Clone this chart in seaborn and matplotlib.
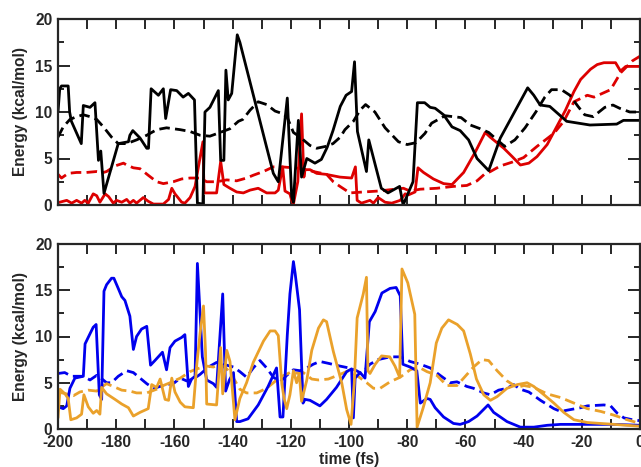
import matplotlib
matplotlib.use("Agg")
import matplotlib.pyplot as plt
from matplotlib.ticker import MultipleLocator
import seaborn as sns

# ---- upper panel: black pair and red pair ----
black_solid_t = [-200, -199.4, -198.8, -196.5, -196, -195.4, -192, -191.3, -189, -187.3, -186.1, -185.3,
                 -184.2, -181.5, -179.3, -175.8, -175.3, -174.3, -171.8, -169.5, -168.9, -168, -165.5,
                 -163.8, -163, -161.3, -159.2, -157, -155.2, -153.1, -152.1, -150.2, -149.5, -147.8,
                 -144.9, -144.1, -143, -142.3, -141.5, -140.3, -138.4, -137.5, -128.3, -126, -124.3,
                 -121.2, -119.7, -119.1, -117.4, -116.3, -114.5, -111.7, -109.5, -107.5, -105.5, -103,
                 -101, -99.1, -98.1, -97.1, -94.0, -93.2, -88.9, -86.6, -82.6, -81.4, -78.0, -76.5,
                 -74, -72.1, -70.4, -67.5, -64.6, -61.8, -58.9, -56, -52, -48, -44, -38.6, -36.5,
                 -34.3, -31, -25.2, -17.2, -8, -5.7, 0]
black_solid_e = [10.0, 12.5, 12.8, 12.8, 10.0, 9.0, 6.6, 10.7, 10.5, 11.0, 4.8, 5.8,
                 1.25, 4.2, 6.6, 6.8, 7.5, 8.0, 7.2, 6.1, 6.1, 12.5, 11.8,
                 12.5, 9.3, 12.4, 12.3, 11.6, 12.0, 11.3, 0.2, 0.1, 10.0, 10.5,
                 12.3, 4.8, 4.8, 14.5, 11.3, 12.0, 18.3, 17.5, 6.2, 3.4, 2.5,
                 11.5, 0.9, 0.3, 9.1, 3.0, 5.0, 4.5, 4.9, 6.2, 8.0, 10.6,
                 11.8, 12.2, 15.4, 7.9, 3.6, 7.0, 1.8, 1.3, 2.0, 0.0, 2.5, 11.0,
                 11.0, 10.5, 10.4, 9.7, 8.4, 8.0, 7.0, 5.0, 3.7, 7.2, 9.5, 12.6, 11.8,
                 10.75, 10.6, 9.0, 8.6, 8.7, 9.1, 9.1]

black_dash_t = [-200, -198.2, -195.9, -193.6, -191.3, -189, -186.7, -184.4, -181.6, -179.3, -176.4,
                -173, -169.5, -166.1, -162.7, -158, -154.6, -151.2, -147.8, -144.3, -140.9, -138,
                -136.5, -134, -131.2, -128.3, -125.4, -122.6, -121.2, -119.1, -116.8, -113.4, -111.1,
                -108, -105.5, -103, -101.4, -98.5, -96.2, -94.3, -91.1, -87.6, -83, -80, -77, -73.9,
                -71.6, -67, -61.5, -58.3, -54.9, -52, -49.1, -46.5, -43, -39.5, -35.8, -32.7, -30.4,
                -27, -24.1, -21.3, -19, -16.1, -12.1, -9.3, -7, -3.5, 0]
black_dash_e = [7.3, 8.4, 9.2, 9.5, 9.7, 9.5, 9.2, 8.4, 7.3, 6.6, 6.6,
                7.0, 7.5, 8.1, 8.3, 8.1, 7.9, 7.5, 7.4, 7.8, 8.2, 9.0,
                9.2, 10.2, 11.1, 10.8, 10.1, 9.8, 9.4, 7.8, 7.3, 6.4, 6.1,
                6.3, 6.6, 7.3, 8.1, 9.0, 10.2, 10.8, 10.0, 8.3, 6.8, 6.5, 6.7, 7.7,
                8.8, 9.6, 9.4, 8.6, 8.2, 7.8, 7.0, 6.3, 7.0, 8.3, 10.0, 11.6, 12.4,
                12.4, 11.8, 10.6, 9.7, 9.5, 10.5, 10.75, 10.4, 10.0, 10.0]

red_solid_t = [-200, -197, -195.3, -193.6, -191.9, -190.8, -189.6, -187.9, -186.7, -185.6, -183.8,
               -182.6, -181, -179.9, -178.1, -176.4, -175.3, -174.1, -173, -170.7, -169, -167.2,
               -163.8, -162, -160.9, -159.8, -157.5, -156.4, -154.6, -152.9, -151.8, -150.2, -149.8,
               -145.5, -144.1, -143, -140.9, -138.6, -136.3, -134, -131.2, -128.3, -125.4, -124.3,
               -122.8, -122, -120.3, -119.7, -119.1, -117.6, -116.3, -115.5, -115.1, -113.4, -111.1,
               -108, -103.1, -99.1, -97.8, -97.2, -95.7, -92.8, -91.6, -90, -87.6, -85.3, -82.4,
               -80.7, -79.5, -77.3, -76.3, -74.4, -71, -67.5, -64.6, -60.6, -56.6, -53.2, -51.5,
               -46.8, -43.9, -41.1, -38.2, -35.4, -31.9, -29, -25.6, -22.7, -20.4, -17, -14.7,
               -12.4, -8.4, -6.7, -4.9, 0]
red_solid_e = [0.25, 0.5, 0.2, 0.5, 0.2, 0.5, 0.2, 1.2, 1.0, 0.3, 1.2,
               0.9, 0.2, 0.5, 0.3, 0.6, 0.2, 0.5, 0.2, 0.8, 0.4, 0.1,
               0.1, 0.6, 1.8, 1.2, 0.3, 0.2, 0.8, 2.0, 4.0, 6.8, 1.3,
               1.3, 4.7, 2.2, 1.8, 1.4, 1.3, 1.6, 1.8, 1.3, 1.3, 1.6,
               4.1, 1.5, 1.2, 0.5, 0.1, 2.5, 9.8, 3.0, 3.8, 3.8, 3.4,
               3.3, 3.0, 2.9, 4.1, 0.5, 0.2, 0.5, 0.2, 0.8, 0.3, 0.2, 0.5,
               1.2, 1.1, 1.4, 4.0, 3.5, 2.8, 2.3, 2.2, 3.5, 5.7, 7.8, 7.3,
               6.1, 5.2, 4.3, 4.5, 5.2, 6.5, 8.2, 10.2, 12.2, 13.5, 14.6, 15.1,
               15.3, 15.3, 14.4, 14.9, 14.9]

red_dash_t = [-200, -198.8, -196.5, -193.6, -190.2, -186.7, -184.4, -183.3, -180.4, -177.5, -176.4,
              -174.1, -171.8, -169, -166.1, -163.8, -160.4, -157.5, -154.6, -151.2, -148.9, -145.5,
              -142, -138.6, -135.2, -132.9, -129.4, -126, -123.1, -119.1, -115.7, -112.3, -107.7,
              -105.4, -103.1, -99.7, -95.1, -90, -87.1, -81.3, -79, -75.5, -69.8, -64.1, -59.5,
              -56, -53.5, -51.4, -48, -44, -40, -35.4, -29.6, -26.2, -22.7, -18.1, -15.8, -10.1,
              -6.7, -2.6, 0]
red_dash_e = [3.3, 2.9, 3.4, 3.5, 3.5, 3.6, 3.5, 3.6, 4.2, 4.5, 4.3,
              4.0, 3.9, 3.2, 2.5, 2.3, 2.5, 2.8, 2.9, 2.9, 2.5, 2.5,
              2.7, 2.6, 2.9, 3.2, 3.6, 4.1, 4.1, 4.0, 3.9, 3.6, 3.3,
              2.5, 2.0, 1.3, 1.4, 1.5, 1.6, 1.8, 1.5, 1.7, 1.8, 2.0, 2.1,
              2.6, 3.3, 3.6, 4.2, 4.6, 5.1, 6.3, 7.7, 9.0, 11.1, 11.8, 11.6, 12.4,
              14.2, 15.5, 16.0]

# ---- lower panel: blue pair and orange pair ----
blue_solid_t = [-200, -198.2, -197, -195.9, -194.2, -191.3, -190.7, -189, -187.9, -186.9, -185.8,
                -185, -184.2, -183.3, -181.6, -180.8, -179.3, -178.1, -177, -175.3, -174.1, -173,
                -171.3, -169.5, -168.2, -166.7, -164.1, -162.7, -161.5, -159.8, -157.5, -156.4,
                -155.2, -154.1, -152.9, -152.1, -151.2, -150.4, -148.9, -146.6, -145.5, -143.4,
                -142.4, -141.1, -139.7, -138.6, -137.5, -134.7, -131.2, -127.8, -124.9, -123.7,
                -122.7, -121.2, -120.3, -119.1, -118.5, -117.0, -115.8, -115.1, -113.4, -110,
                -107.7, -104.3, -100.8, -99.1, -98.5, -97.9, -96.2, -94.5, -93, -91, -88.7, -85.9,
                -83.8, -82.4, -81.5, -79, -76.7, -75.5, -73.2, -72.1, -70.4, -67.5, -64.1, -61.8,
                -58.9, -56, -52.2, -50.3, -45.7, -41.1, -36.5, -31.9, -27.3, -18, -9, 0]
blue_solid_e = [2.4, 2.2, 2.5, 4.4, 5.5, 5.7, 9.2, 10.3, 11.0, 11.3, 3.7,
                3.2, 14.9, 15.6, 16.3, 16.3, 15.2, 14.3, 13.9, 12.2, 8.6, 10.0,
                10.8, 11.1, 6.9, 7.4, 8.3, 6.4, 8.8, 9.5, 9.9, 10.2,
                4.6, 5.4, 5.7, 17.9, 12.6, 7.8, 5.3, 4.9, 4.5, 14.6,
                4.1, 5.3, 6.1, 0.8, 0.8, 1.1, 2.6, 4.6, 6.6, 1.3,
                1.3, 10.2, 14.6, 18.1, 16.8, 12.9, 2.8, 3.2, 3.1, 2.5,
                3.2, 4.5, 6.2, 6.5, 1.2, 5.5, 6.1, 5.5, 11.6, 12.7, 14.7, 15.2,
                15.3, 14.4, 7.0, 6.7, 6.3, 2.8, 3.3, 3.2, 2.3, 1.3, 0.6, 0.5,
                0.8, 1.4, 2.6, 1.8, 0.8, 0.2, 0.2, 0.4, 0.5, 0.5, 0.5, 0.4]

blue_dash_t = [-200, -197.7, -195.3, -191.3, -189, -186.7, -185.6, -183.3, -181.6, -179.3, -176.4,
               -174.1, -171.8, -169.5, -167.2, -164.9, -162.7, -160.4, -158, -155.8, -153.5, -151.2,
               -148.3, -145.5, -143.1, -139.7, -137.5, -135.2, -132.9, -130.6, -128.3, -126, -123.7,
               -121.4, -119.1, -116.8, -114.5, -112.3, -110, -107.1, -103.1, -100, -97.4, -95.7,
               -92.8, -90, -85.9, -82.4, -79, -75.5, -72.1, -68.7, -65.2, -62.9, -59.5, -57.2,
               -53.7, -51.4, -48.6, -45.7, -43.4, -41.1, -38.2, -34.2, -29.6, -27.3, -23.9, -20.4,
               -18.1, -12.4, -10.1, -7.8, -5.5, -2.6, 0]
blue_dash_e = [6.0, 6.1, 5.7, 5.7, 5.3, 5.8, 5.6, 5.0, 5.0, 5.7, 6.3,
               6.1, 5.5, 4.9, 4.4, 4.6, 4.8, 4.9, 5.5, 5.2, 5.4, 5.9,
               6.7, 7.2, 7.0, 6.7, 6.2, 5.6, 6.6, 7.4, 6.6, 5.6, 5.1,
               5.8, 6.4, 6.3, 6.6, 7.0, 7.3, 7.1, 6.8, 6.6, 6.3, 6.0,
               7.0, 7.5, 7.8, 7.8, 7.3, 7.0, 6.6, 5.8, 5.0, 5.1, 4.6, 4.4,
               3.9, 3.7, 4.2, 4.4, 4.8, 4.3, 4.0, 3.1, 2.2, 1.9, 2.1, 2.3,
               2.5, 2.6, 2.5, 1.7, 1.2, 1.0, 0.9]

orange_solid_t = [-200, -199.3, -197.6, -196.5, -195.6, -193.6, -191.9, -191.1, -189.6, -187.9, -186.7,
                  -185.6, -185, -183.3, -180.4, -178.1, -175.8, -174.1, -171.8, -169, -167.8, -166.1,
                  -164.9, -163.2, -162, -160.9, -159.8, -158, -156.4, -153.5, -152.3, -151.2, -150,
                  -149.3, -148.9, -145.5, -144.1, -143.4, -142, -140.9, -139.2, -137.5, -135.2, -132.9,
                  -129.4, -127.1, -125.4, -124.3, -123.1, -122.3, -121.4, -120.3, -119.1, -118, -117.1,
                  -116.3, -114.5, -112.8, -110.5, -108.8, -107.7, -105.4, -102.5, -100.8, -99.3, -98.2,
                  -97.2, -95.1, -94, -93.5, -92.8, -91, -88.8, -86, -84.2, -82.6, -81.8, -79.8, -77.4,
                  -76.6, -74.6, -72.1, -70, -68.1, -65.8, -62.8, -60.6, -58.3, -56.2, -53.7, -51.4,
                  -49.1, -45.7, -42.2, -38.8, -36.5, -33, -29.6, -26.2, -22.7, -18.1, -9, 0]
orange_solid_e = [1.2, 4.3, 3.8, 3.3, 1.0, 1.2, 1.6, 3.7, 2.4, 1.7, 2.0,
                  1.6, 4.5, 3.8, 3.2, 2.7, 2.3, 1.4, 1.8, 2.2, 4.8, 4.5,
                  5.4, 3.2, 3.1, 5.5, 4.0, 2.9, 2.4, 2.3, 7.0, 10.3, 13.3,
                  8.3, 2.7, 2.6, 8.8, 3.8, 8.5, 7.3, 1.0, 3.3, 5.0, 7.2,
                  9.5, 10.6, 10.6, 10.1, 4.9, 3.3, 2.2, 3.7, 6.3, 5.0, 6.0,
                  3.0, 5.3, 8.5, 10.9, 11.8, 11.6, 8.4, 5.0, 2.1, 0.5, 4.9,
                  12.0, 14.6, 16.4, 6.3, 6.0, 7.0, 7.9, 7.8, 6.8, 5.6, 17.3, 15.8, 12.4,
                  0.2, 2.2, 5.0, 9.3, 10.9, 11.8, 11.3, 10.6, 8.1, 5.4, 3.7, 3.1,
                  3.5, 4.4, 4.8, 5.0, 4.6, 3.7, 2.8, 1.8, 1.0, 0.7, 0.5, 0.3]

orange_dash_t = [-200, -197.1, -194.7, -192.5, -189.6, -186.7, -185.6, -183.3, -181, -178.1, -175.3,
                 -173, -169.5, -166.1, -163.8, -161.5, -158, -154.6, -152.3, -148.9, -146.6, -144.3,
                 -142, -139.7, -137.5, -135.2, -131.7, -128.3, -126, -123.7, -120.3, -116.8, -115.7,
                 -112.8, -110.5, -107.1, -103.1, -100.2, -97.4, -93.9, -91.6, -89.3, -85.9, -82.4,
                 -79, -76.1, -73.2, -69.8, -66.4, -62.9, -60.6, -57.2, -54.3, -52, -49.1, -45.7,
                 -42.2, -39.9, -36.5, -31.9, -27.3, -22.7, -18.1, -13.5, -9, -4.4, 0]
orange_dash_e = [4.0, 3.8, 3.6, 4.0, 4.2, 4.1, 4.4, 4.9, 4.6, 4.2, 4.1,
                 3.9, 3.9, 4.3, 4.7, 5.0, 5.5, 6.2, 6.5, 6.8, 6.7, 7.0,
                 6.5, 5.5, 4.3, 3.9, 3.9, 4.4, 5.0, 5.6, 6.1, 6.0, 6.1,
                 5.4, 5.3, 5.4, 5.9, 6.3, 5.8, 5.0, 4.4, 4.4, 5.1, 5.6,
                 6.4, 6.7, 6.2, 5.8, 4.7, 4.7, 5.5, 6.7, 7.5, 7.4, 6.3, 5.2,
                 4.5, 4.7, 4.5, 3.8, 3.4, 2.8, 2.2, 1.9, 1.5, 1.0, 0.6]

x_ticks = [-200, -180, -160, -140, -120, -100, -80, -60, -40, -20, 0]
x_tick_labels = ["-200", "-180", "-160", "-140", "-120", "-100", "-80", "-60", "-40", "-20", "0"]
y_ticks = [0, 5, 10, 15, 20]

BLACK = "#000000"
RED = "#dd0000"
BLUE = "#0000ee"
ORANGE = "#eaa12b"
DASH = (0, (3.8, 1.9))
FS = 11.2

sns.set_style("ticks")
plt.rcParams["font.family"] = ["Liberation Sans", "DejaVu Sans"]
plt.rcParams["font.weight"] = "bold"
plt.rcParams["axes.labelweight"] = "bold"

fig = plt.figure(figsize=(6.41, 4.67), dpi=100)
ax_top = fig.add_axes([58 / 641, 1 - 205 / 467, 582 / 641, 186 / 467])
ax_bot = fig.add_axes([58 / 641, 1 - 429 / 467, 582 / 641, 185 / 467])

def draw(ax, t, e, color, ls):
    sns.lineplot(x=t, y=e, ax=ax, color=color, linestyle=ls, linewidth=2.0,
                 estimator=None, sort=False, legend=False)

draw(ax_top, red_dash_t, red_dash_e, RED, DASH)
draw(ax_top, red_solid_t, red_solid_e, RED, "-")
draw(ax_top, black_dash_t, black_dash_e, BLACK, DASH)
draw(ax_top, black_solid_t, black_solid_e, BLACK, "-")

draw(ax_bot, blue_dash_t, blue_dash_e, BLUE, DASH)
draw(ax_bot, orange_dash_t, orange_dash_e, ORANGE, DASH)
draw(ax_bot, blue_solid_t, blue_solid_e, BLUE, "-")
draw(ax_bot, orange_solid_t, orange_solid_e, ORANGE, "-")

for ax in (ax_top, ax_bot):
    ax.set_xlim(-200, 0)
    ax.set_ylim(0, 20)
    ax.set_xticks(x_ticks)
    ax.xaxis.set_minor_locator(MultipleLocator(10))
    ax.set_yticks(y_ticks)
    ax.yaxis.set_minor_locator(MultipleLocator(2.5))
    ax.tick_params(axis="x", which="both", direction="in", length=7, width=1.4,
                   top=True, bottom=True)
    ax.tick_params(axis="y", which="major", direction="in", length=8.5, width=1.4,
                   left=True, right=True)
    ax.tick_params(axis="y", which="minor", direction="in", length=4.3, width=1.4,
                   left=True, right=True)
    ax.tick_params(axis="both", which="major", labelsize=FS, pad=4)
    for sp in ax.spines.values():
        sp.set_linewidth(1.6)
        sp.set_visible(True)
    ax.set_ylabel("Energy (kcal/mol)", fontsize=FS, fontweight="bold", labelpad=5)
    for lab in ax.get_yticklabels():
        lab.set_fontweight("bold")

ax_top.set_xticklabels([])
ax_top.set_xlabel("")
ax_bot.set_xticklabels(x_tick_labels, fontweight="bold")
ax_bot.set_xlabel("time (fs)", fontsize=FS, fontweight="bold", labelpad=2)

fig.savefig("out.png", dpi=100)
